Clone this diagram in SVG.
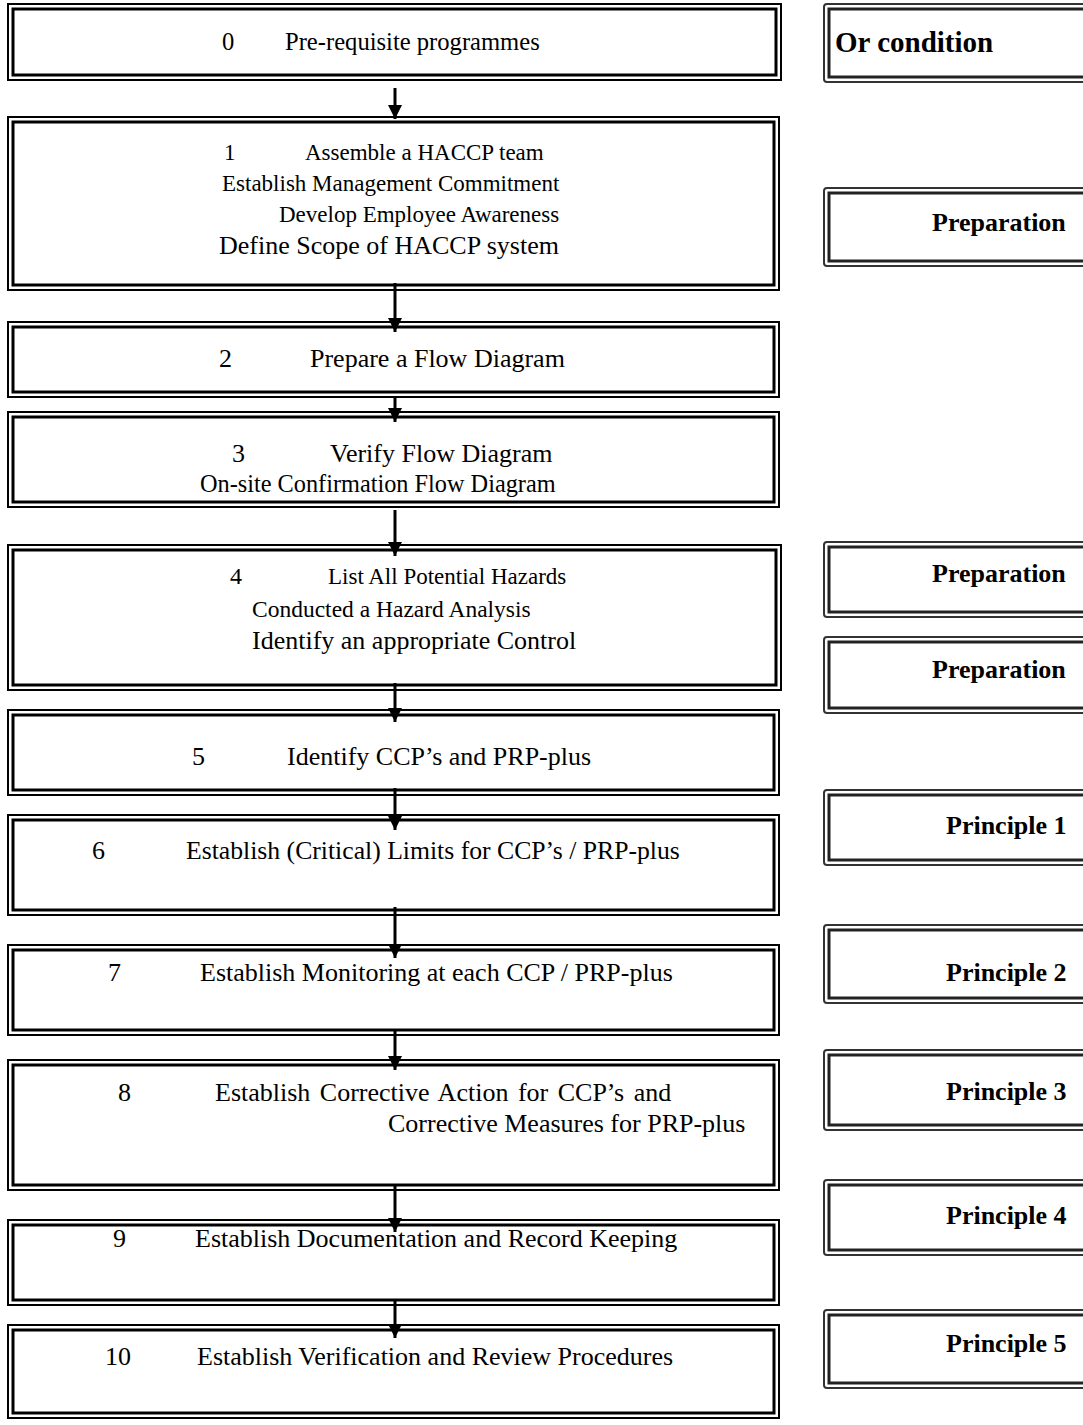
<svg xmlns="http://www.w3.org/2000/svg" width="1083" height="1425" viewBox="0 0 1083 1425">
<defs>
<style>
.o{fill:none;stroke:#000;stroke-width:2}
.i{fill:none;stroke:#000;stroke-width:3}
.ro{fill:none;stroke:#333;stroke-width:2}
.ri{fill:none;stroke:#222;stroke-width:3}
.t{font-family:"Liberation Serif","Times New Roman",serif;font-size:26px;fill:#000}
.s{font-size:23px}
.b{font-family:"Liberation Serif","Times New Roman",serif;font-size:26px;font-weight:bold;fill:#000}
.c{stroke:#000;stroke-width:3;fill:none}
</style>
<marker id="ah" markerUnits="userSpaceOnUse" markerWidth="16" markerHeight="14" refX="14" refY="7" orient="auto" viewBox="0 0 16 14">
<path d="M0,0 L14,7 L0,14 Z" fill="#000"/>
</marker>
</defs>
<rect width="1083" height="1425" fill="#fff"/>

<g id="n0">
<rect class="o" x="8" y="4" width="773" height="76"/>
<rect class="i" x="13" y="9" width="763" height="66"/>
<text class="t" x="222" y="50" style="font-size:24.6px">0</text>
<text class="t" x="285" y="50" style="font-size:24.6px">Pre-requisite programmes</text>
</g>
<g id="n1">
<rect class="o" x="8" y="117" width="771" height="173"/>
<rect class="i" x="13" y="122" width="761" height="163"/>
<text class="t s" x="224" y="160">1</text>
<text class="t s" x="305" y="160">Assemble a HACCP team</text>
<text class="t s" x="222" y="191">Establish Management Commitment</text>
<text class="t s" x="279" y="222">Develop Employee Awareness</text>
<text class="t" x="219" y="254">Define Scope of HACCP system</text>
</g>
<g id="n2">
<rect class="o" x="8" y="322" width="771" height="75"/>
<rect class="i" x="13" y="327" width="761" height="65"/>
<text class="t" x="219" y="367">2</text>
<text class="t" x="310" y="367">Prepare a Flow Diagram</text>
</g>
<g id="n3">
<rect class="o" x="8" y="412" width="771" height="95"/>
<rect class="i" x="13" y="417" width="761" height="85"/>
<text class="t" x="232" y="462">3</text>
<text class="t" x="330" y="462">Verify Flow Diagram</text>
<text class="t" x="200" y="492" style="font-size:24.3px">On-site Confirmation Flow Diagram</text>
</g>
<g id="n4">
<rect class="o" x="8" y="545" width="773" height="145"/>
<rect class="i" x="13" y="550" width="763" height="135"/>
<text class="t" x="230" y="584" style="font-size:24px">4</text>
<text class="t" x="328" y="584" style="font-size:23px">List All Potential Hazards</text>
<text class="t" x="252" y="617" style="font-size:23.5px">Conducted a Hazard Analysis</text>
<text class="t" x="252" y="649">Identify an appropriate Control</text>
</g>
<g id="n5">
<rect class="o" x="8" y="710" width="771" height="85"/>
<rect class="i" x="13" y="715" width="761" height="75"/>
<text class="t" x="192" y="765">5</text>
<text class="t" x="287" y="765">Identify CCP’s and PRP-plus</text>
</g>
<g id="n6">
<rect class="o" x="8" y="815" width="771" height="100"/>
<rect class="i" x="13" y="820" width="761" height="90"/>
<text class="t" x="92" y="859">6</text>
<text class="t" x="186" y="859" style="font-size:25.7px">Establish (Critical) Limits for CCP’s / PRP-plus</text>
</g>
<g id="n7">
<rect class="o" x="8" y="945" width="771" height="90"/>
<rect class="i" x="13" y="950" width="761" height="80"/>
<text class="t" x="108" y="981">7</text>
<text class="t" x="200" y="981">Establish Monitoring at each CCP / PRP-plus</text>
</g>
<g id="n8">
<rect class="o" x="8" y="1060" width="771" height="130"/>
<rect class="i" x="13" y="1065" width="761" height="120"/>
<text class="t" x="118" y="1101">8</text>
<text class="t" x="215" y="1101" style="word-spacing:3px">Establish Corrective Action for CCP’s and</text>
<text class="t" x="388" y="1132">Corrective Measures for PRP-plus</text>
</g>
<g id="n9">
<rect class="o" x="8" y="1220" width="771" height="85"/>
<rect class="i" x="13" y="1225" width="761" height="75"/>
<text class="t" x="113" y="1247">9</text>
<text class="t" x="195" y="1247">Establish Documentation and Record Keeping</text>
</g>
<g id="n10">
<rect class="o" x="8" y="1325" width="771" height="93"/>
<rect class="i" x="13" y="1330" width="761" height="83"/>
<text class="t" x="105" y="1365">10</text>
<text class="t" x="197" y="1365">Establish Verification and Review Procedures</text>
</g>

<g id="r0">
<rect class="ro" x="824" y="4" width="280" height="78" rx="3"/>
<rect class="ri" x="829" y="9" width="270" height="68"/>
<text class="b" x="835" y="52" style="font-size:29px">Or condition</text>
</g>
<g id="r1">
<rect class="ro" x="824" y="188" width="280" height="78" rx="3"/>
<rect class="ri" x="829" y="193" width="270" height="68"/>
<text class="b" x="932" y="231">Preparation</text>
</g>
<g id="r2">
<rect class="ro" x="824" y="542" width="280" height="75" rx="3"/>
<rect class="ri" x="829" y="547" width="270" height="65"/>
<text class="b" x="932" y="582">Preparation</text>
</g>
<g id="r3">
<rect class="ro" x="824" y="637" width="280" height="76" rx="3"/>
<rect class="ri" x="829" y="642" width="270" height="66"/>
<text class="b" x="932" y="678">Preparation</text>
</g>
<g id="r4">
<rect class="ro" x="824" y="790" width="280" height="75" rx="3"/>
<rect class="ri" x="829" y="795" width="270" height="65"/>
<text class="b" x="946" y="834">Principle 1</text>
</g>
<g id="r5">
<rect class="ro" x="824" y="925" width="280" height="78" rx="3"/>
<rect class="ri" x="829" y="930" width="270" height="68"/>
<text class="b" x="946" y="981">Principle 2</text>
</g>
<g id="r6">
<rect class="ro" x="824" y="1050" width="280" height="80" rx="3"/>
<rect class="ri" x="829" y="1055" width="270" height="70"/>
<text class="b" x="946" y="1100">Principle 3</text>
</g>
<g id="r7">
<rect class="ro" x="824" y="1180" width="280" height="75" rx="3"/>
<rect class="ri" x="829" y="1185" width="270" height="65"/>
<text class="b" x="946" y="1224">Principle 4</text>
</g>
<g id="r8">
<rect class="ro" x="824" y="1310" width="280" height="78" rx="3"/>
<rect class="ri" x="829" y="1315" width="270" height="68"/>
<text class="b" x="946" y="1352">Principle 5</text>
</g>

<g id="connectors">
<line class="c" x1="395" y1="88" x2="395" y2="119" marker-end="url(#ah)"/>
<line class="c" x1="395" y1="283" x2="395" y2="332" marker-end="url(#ah)"/>
<line class="c" x1="395" y1="398" x2="395" y2="422" marker-end="url(#ah)"/>
<line class="c" x1="395" y1="510" x2="395" y2="556" marker-end="url(#ah)"/>
<line class="c" x1="395" y1="683" x2="395" y2="722" marker-end="url(#ah)"/>
<line class="c" x1="395" y1="788" x2="395" y2="830" marker-end="url(#ah)"/>
<line class="c" x1="395" y1="907" x2="395" y2="958" marker-end="url(#ah)"/>
<line class="c" x1="395" y1="1030" x2="395" y2="1070" marker-end="url(#ah)"/>
<line class="c" x1="395" y1="1185" x2="395" y2="1232" marker-end="url(#ah)"/>
<line class="c" x1="395" y1="1300" x2="395" y2="1338" marker-end="url(#ah)"/>
</g>
</svg>
